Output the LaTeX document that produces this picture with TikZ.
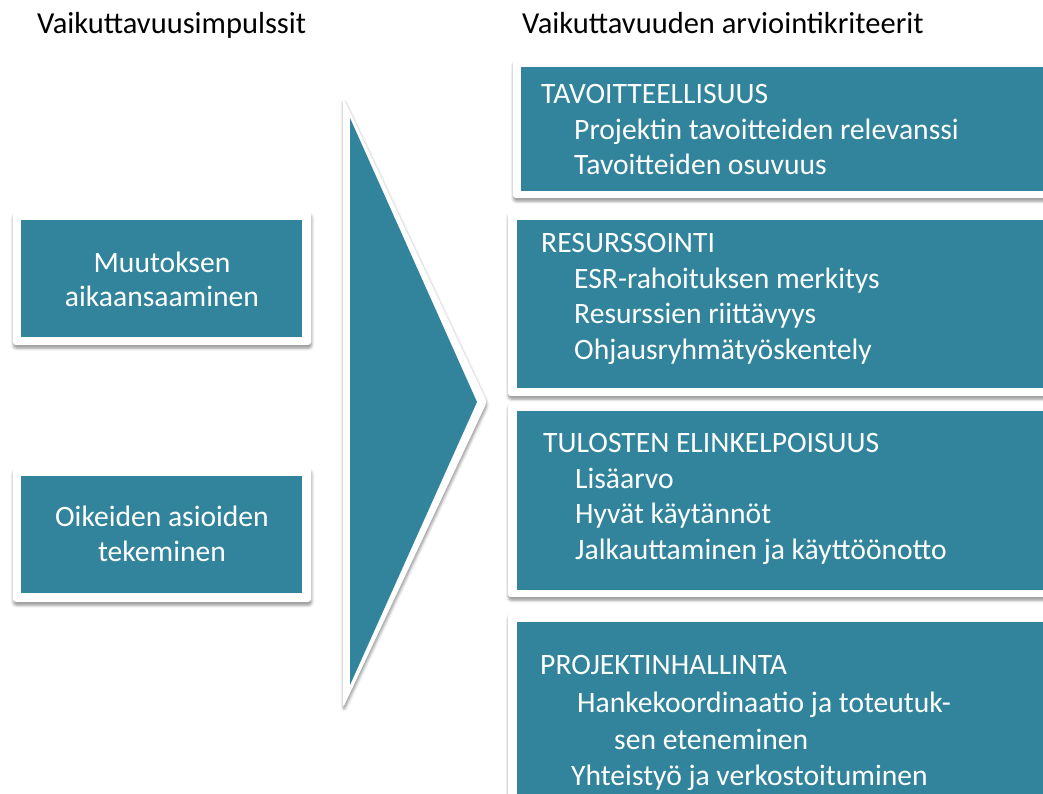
\documentclass[tikz,border=0pt]{standalone}
\usepackage{fontspec}
\setmainfont{Carlito}
\usetikzlibrary{shadows.blur}
\definecolor{tealbox}{RGB}{49,132,155}
\begin{document}
\begin{tikzpicture}[x=1pt,y=-1pt,
  frame/.style={fill=white, rounded corners=3pt, inner sep=0pt, outer sep=0pt, anchor=north west,
    blur shadow={shadow xshift=0.5pt, shadow yshift=-3pt, shadow blur radius=3pt, shadow opacity=45}},
  panel/.style={fill=tealbox, inner sep=0pt, outer sep=0pt, anchor=north west},
  fs/.style={font=\fontsize{29.6}{34}\selectfont},
  title/.style={font=\fontsize{30.5}{35}\selectfont, text=black, anchor=base west, inner sep=0pt},
  head/.style={fs, text=white, anchor=base west, inner sep=0pt},
  item/.style={fs, text=white, anchor=base west, inner sep=0pt},
  ctext/.style={fs, text=white, anchor=base, inner sep=0pt}]
\useasboundingbox (0,0) rectangle (1043,793);
\clip (0,0) rectangle (1043,793);

% titles
\node[title] (t1) at (37,33) {Vaikuttavuusimpulssit};
\node[title] (t2) at (522,33) {Vaikuttavuuden arviointikriteerit};

% left boxes
\node[frame, minimum width=298pt, minimum height=133pt] (lf1) at (13,212) {};
\node[panel, minimum width=281pt, minimum height=117pt] (lp1) at (21,220) {};
\node[ctext] (l1a) at (162,272) {Muutoksen};
\node[ctext] (l1b) at (162,306) {aikaansaaminen};

\node[frame, minimum width=298pt, minimum height=134pt] (lf2) at (13,468) {};
\node[panel, minimum width=281pt, minimum height=117pt] (lp2) at (21,476) {};
\node[ctext] (l2a) at (162,526) {Oikeiden asioiden};
\node[ctext] (l2b) at (162,561) {tekeminen};

% chevron
\coordinate (ct) at (343,97);
\coordinate (cp) at (487,402);
\coordinate (cb) at (343,708);
\fill[white, rounded corners=4pt, blur shadow={shadow xshift=0.5pt, shadow yshift=-3pt, shadow blur radius=3pt, shadow opacity=45}]
  (ct) -- (cp) -- (cb) -- cycle;
\coordinate (it) at (350,118);
\coordinate (ip) at (477,402);
\coordinate (ib) at (350,685);
\fill[tealbox] (it) -- (ip) -- (ib) -- cycle;

% right boxes
\node[frame, minimum width=560pt, minimum height=138pt] (rf1) at (513,60) {};
\node[panel, minimum width=560pt, minimum height=124pt] (rp1) at (521,67) {};
\node[head] (h1) at (541,103) {TAVOITTEELLISUUS};
\node[item] (h1a) at (574,139) {Projektin tavoitteiden relevanssi};
\node[item] (h1b) at (574,174) {Tavoitteiden osuvuus};

\node[frame, minimum width=560pt, minimum height=184pt] (rf2) at (508,212) {};
\node[panel, minimum width=560pt, minimum height=168pt] (rp2) at (517,220) {};
\node[head] (h2) at (541,252) {RESURSSOINTI};
\node[item] (h2a) at (574,288) {ESR-rahoituksen merkitys};
\node[item] (h2b) at (574,323) {Resurssien riittävyys};
\node[item] (h2c) at (574,359) {Ohjausryhmätyöskentely};

\node[frame, minimum width=560pt, minimum height=194pt] (rf3) at (508,403) {};
\node[panel, minimum width=560pt, minimum height=179pt] (rp3) at (517,411) {};
\node[head] (h3) at (543,452) {TULOSTEN ELINKELPOISUUS};
\node[item] (h3a) at (575,488) {Lisäarvo};
\node[item] (h3b) at (575,523) {Hyvät käytännöt};
\node[item] (h3c) at (575,559) {Jalkauttaminen ja käyttöönotto};

\node[frame, minimum width=560pt, minimum height=200pt] (rf4) at (508,613) {};
\node[panel, minimum width=560pt, minimum height=200pt] (rp4) at (517,622) {};
\node[head] (h4) at (540,674) {PROJEKTINHALLINTA};
\node[item] (h4a) at (577,712) {Hankekoordinaatio ja toteutuk-};
\node[item] (h4b) at (614,749) {sen eteneminen};
\node[item] (h4c) at (571,785) {Yhteistyö ja verkostoituminen};
\end{tikzpicture}
\end{document}
